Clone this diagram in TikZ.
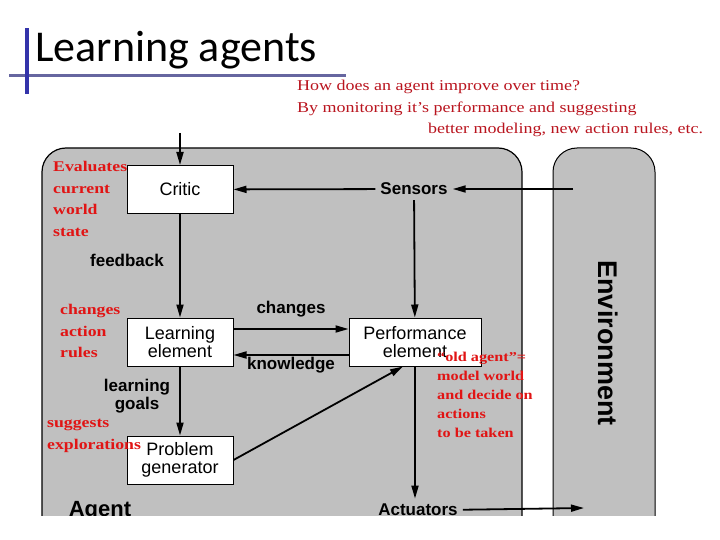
\documentclass[tikz,border=0pt]{standalone}
\usepackage{fontspec}
\setmainfont{Liberation Sans}
\newfontfamily\titlefont{Carlito}
\newfontfamily\notefont[FakeStretch=1.2]{Liberation Serif}
\usetikzlibrary{arrows.meta, positioning}
\definecolor{agentgray}{RGB}{192,192,192}
\definecolor{notered}{RGB}{225,20,20}
\definecolor{darkred}{RGB}{185,20,30}
\definecolor{barblue}{RGB}{51,51,170}
\definecolor{barpurple}{RGB}{102,102,160}

\begin{document}
\begin{tikzpicture}[x=1pt, y=-1pt,
  part/.style={draw, fill=white, line width=1pt, minimum width=106pt, minimum height=48pt, align=center, font=\fontsize{18}{18}\selectfont},
  lbl/.style={font=\bfseries\fontsize{17}{18}\selectfont, inner sep=5pt},
  note/.style={text=notered, anchor=north west, inner sep=0pt, align=left, font=\notefont\bfseries\fontsize{14.8}{21.5}\selectfont},
  flow/.style={-{Triangle[length=13pt,width=7pt]}, line width=1.8pt}]
\useasboundingbox (0,0) rectangle (720,540);
% title
\fill[barpurple] (9,74) rectangle (346,77.5);
\fill[barblue] (25,28) rectangle (29,94);
\node[anchor=base west, inner sep=0pt, font=\titlefont\fontsize{44}{50}\selectfont] (title) at (35,62) {Learning agents};
\node[anchor=north west, inner sep=0pt, text=darkred, align=left, font=\notefont\fontsize{15}{21.5}\selectfont] (question) at (297,80) {How does an agent improve over time?\\By monitoring it’s performance and suggesting\\\hspace*{131pt}better modeling, new action rules, etc.};
\begin{scope}
\clip (0,0) rectangle (720,515);
% agent and environment
\draw[fill=agentgray, line width=1.2pt, rounded corners=24pt] (42,540) -- (42,148) -- (522,148) -- (522,540);
\draw[fill=agentgray, line width=1pt, rounded corners=24pt] (553,540) -- (553,148) -- (655,148) -- (655,540);
\node[rotate=-90, font=\bfseries\fontsize{27}{28}\selectfont] (env) at (608,343) {Environment};
\node[lbl, font=\bfseries\fontsize{22}{24}\selectfont, anchor=base] (agent) at (100,516) {Agent};
% parts
\node[part] (critic) at (180,189.5) {Critic};
\node[part] (learn) at (180,342) {Learning\\element};
\node[part] (probgen) at (180,460) {Problem\\generator};
\node[part, minimum width=132pt] (perf) at (415,342) {Performance\\element};
\node[lbl] (sensors) at (414,189) {Sensors};
\node[lbl, anchor=base] (actuators) at (418,515.5) {Actuators};
\node[lbl] (feedback) at (127,260) {feedback};
\node[lbl] (changes) at (291,309) {changes};
\node[lbl] (knowledge) at (291,365) {knowledge};
\node[lbl, align=center] (goals) at (137,396) {learning\\goals};
% connectors
\coordinate (percept) at (180,133);
\coordinate (envin) at (573,189);
\coordinate (envout) at (584,508);
\draw[flow] (percept) -- (critic);
\draw[flow] (envin) -- (sensors);
\draw[flow] (sensors) -- (critic);
\draw[flow] (sensors) -- (perf);
\draw[flow] (critic) -- (learn);
\draw[flow] ([yshift=13pt]learn.east) -- ([yshift=13pt]perf.west);
\draw[flow] ([yshift=-13pt]perf.west) -- ([yshift=-13pt]learn.east);
\draw[flow] (learn) -- (probgen);
\draw[flow] (probgen.east) -- ([xshift=-12pt]perf.south);
\draw[flow] (perf.south) -- (perf.south |- actuators.north);
\draw[flow] (actuators.east) -- (envout);
\end{scope}
% notes
\node[note] (evaluates) at (53,161.5) {Evaluates\\current\\world\\state};
\node[note] (rules) at (60,304.5) {changes\\action\\rules};
\node[note] (explore) at (47,419) {suggests\\explorations};
\node[note, font=\notefont\bfseries\fontsize{13.5}{19}\selectfont] (oldagent) at (437,351.5) {“old agent”=\\model world\\and decide on\\actions\\to be taken};
\end{tikzpicture}
\end{document}
